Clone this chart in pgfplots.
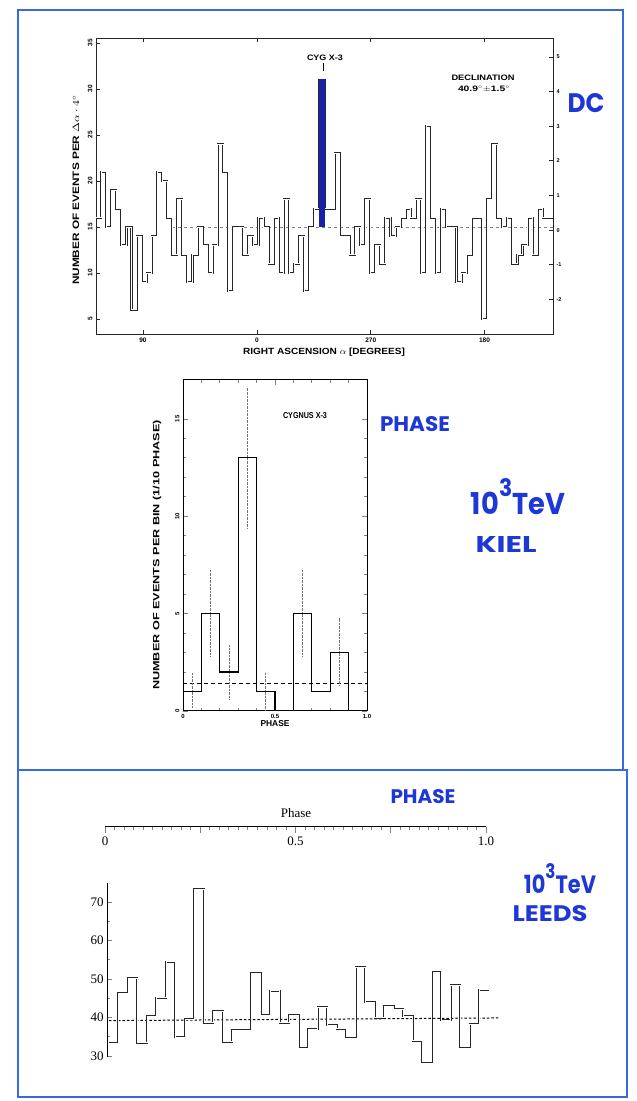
\documentclass[border=0pt]{standalone}
\usepackage{graphicx}
\usepackage{pgfplots}
\pgfplotsset{compat=1.18}
\usepackage{pgfplotstable}
\usepackage{fontspec}
\setmainfont{Liberation Serif}
\newfontfamily\oldsans{Liberation Sans}
\newfontfamily\hand{Poppins}
\definecolor{ink}{RGB}{30,55,215}
\definecolor{framec}{RGB}{55,105,225}
\definecolor{barblue}{RGB}{22,34,170}
\newcommand{\fitbox}[3]{\resizebox{#1}{#2}{\oldsans\bfseries #3}}
\newcommand{\handbox}[3]{\resizebox{#1}{#2}{\hand\bfseries #3}}

\pgfplotstableread{
i v
0 16
1 21
2 15
3 19
4 17
5 13
6 15
7 6
8 14
9 9
10 10
11 14
12 21
13 20
14 16
15 12
16 18
17 12
18 9
19 12
20 15
21 13
22 10
23 13
24 24
25 21
26 8
27 15
28 15
29 12
30 14
31 13
32 16
33 15
34 11
35 16
36 10
37 18
38 10
39 11
40 14
41 8
42 15
43 17
44 31
45 17
46 17
47 23
48 14
49 14
50 12
51 15
52 13
53 18
54 10
55 13
56 11
57 16
58 14
59 15
60 16
61 17
62 16
63 18
64 10
65 26
66 16
67 10
68 17
69 15
70 15
71 9
72 10
73 12
74 16
75 16
76 5
77 18
78 24
79 16
80 15
81 16
82 11
83 12
84 13
85 16
86 12
87 17
88 16
89 16
90 16
}\radata

\pgfplotstableread{
x v
0.0 1
0.1 5
0.2 2
0.3 13
0.4 1
0.5 0
0.6 5
0.7 1
0.8 3
0.9 0
1.0 0
}\kieldata

\pgfplotstableread{
x v
0.000 33.3
0.025 46.3
0.050 50.2
0.075 33.5
0.100 40.4
0.125 45.2
0.150 54.5
0.175 34.9
0.200 39.5
0.225 73.3
0.250 38.7
0.275 41.7
0.300 33.7
0.325 36.7
0.350 36.7
0.375 51.6
0.400 40.6
0.425 47.0
0.450 38.7
0.475 40.6
0.500 32.0
0.525 36.9
0.550 42.7
0.575 38.0
0.600 37.1
0.625 35.0
0.650 53.0
0.675 44.0
0.700 40.0
0.725 43.0
0.750 42.2
0.775 40.3
0.800 34.0
0.825 28.5
0.850 52.2
0.875 39.3
0.900 48.4
0.925 32.4
0.950 38.3
0.975 47.2
1.000 47.2
}\leedsdata

\begin{document}
\begin{tikzpicture}[x=1pt,y=1pt]
\path[use as bounding box] (0,0) rectangle (637,1101);
% blue frame
\draw[framec, line width=2.5pt] (18,1091) rectangle (623,331);
\draw[framec, line width=2.5pt] (18,331) -- (627,331) -- (627,4) -- (18,4) -- cycle;

% ===== top chart (right ascension) =====
\begin{axis}[
  at={(96pt,767pt)}, anchor=south west, scale only axis,
  width=457pt, height=296pt,
  xmin=0, xmax=90, ymin=3.37, ymax=35.54,
  axis line style={line width=0.9pt, black!85},
  xtick={9.25,31.7,54.1,76.5}, xticklabels={90,0,270,180},
  ytick={5,10,...,35}, ytick pos=left,
  tick align=inside, major tick length=4pt,
  tick style={line width=0.8pt, black!85},
  /pgf/number format/assume math mode=true,
  xticklabel style={font=\oldsans\bfseries\fontsize{6.5}{7}\selectfont},
  yticklabel style={font=\oldsans\bfseries\fontsize{6.5}{7}\selectfont, rotate=90, anchor=south},
  clip=false,
]
\addplot[gray, dash pattern=on 3pt off 3pt, line width=0.6pt] coordinates {(15,15) (90,15)};
\addplot[const plot, draw=black!85, line width=0.65pt, double=white, double distance=0.8pt] table[x=i,y=v]{\radata};
\addplot[draw=none, fill=barblue] coordinates {(43.85,15) (43.85,31.1) (45.15,31.1) (45.15,15)} -- cycle;
\end{axis}
\begin{axis}[
  at={(96pt,767pt)}, anchor=south west, scale only axis,
  width=457pt, height=296pt,
  xmin=0, xmax=90, ymin=-3.0, ymax=5.55,
  axis x line=none, axis y line*=right,
  axis line style={-, line width=0.9pt, black!85},
  ytick={-2,...,5}, tick align=inside, major tick length=4pt,
  tick style={line width=0.8pt, black!85},
  /pgf/number format/assume math mode=true,
  yticklabel style={font=\oldsans\bfseries\fontsize{5.5}{6}\selectfont},
]
\end{axis}
\node[rotate=90] at (76,911) {\fitbox{190pt}{6.5pt}{NUMBER OF EVENTS PER $\Delta\alpha\cdot4^{\circ}$}};
\node at (324,749) {\fitbox{162pt}{6.5pt}{RIGHT ASCENSION $\alpha$ [DEGREES]}};
\node at (325,1043) {\fitbox{36pt}{5.5pt}{CYG X-3}};
\draw[line width=0.8pt] (323,1038) -- (323,1030);
\node at (483,1023) {\fitbox{63pt}{5.5pt}{DECLINATION}};
\node at (484,1012) {\fitbox{52pt}{5.5pt}{40.9$^{\circ}\pm$1.5$^{\circ}$}};

% ===== Kiel chart =====
\begin{axis}[
  at={(183pt,390pt)}, anchor=south west, scale only axis,
  width=184pt, height=331pt,
  xmin=0, xmax=1, ymin=0, ymax=17,
  xtick={0,0.5,1}, xticklabels={0,0.5,1.0}, minor x tick num=4,
  ytick={0,5,10,15}, minor y tick num=4,
  tick align=inside, major tick length=5pt, minor tick length=3pt,
  axis line style={line width=1pt},
  tick style={line width=0.8pt},
  /pgf/number format/assume math mode=true,
  xticklabel style={font=\oldsans\bfseries\fontsize{6}{7}\selectfont},
  yticklabel style={font=\oldsans\bfseries\fontsize{6}{7}\selectfont, rotate=90, anchor=south},
]
\addplot[black, dash pattern=on 4pt off 3pt, line width=0.8pt] coordinates {(0,1.4) (1,1.4)};
\addplot[draw=none, mark=none, error bars/.cd, y dir=both, y explicit, error mark=none,
  error bar style={black!55, densely dotted, line width=0.9pt}]
  coordinates {
  (0.05,1) += (0,1.0) -= (0,0.8)
  (0.15,5) += (0,2.3) -= (0,2.2)
  (0.25,2) += (0,1.4) -= (0,1.4)
  (0.35,13) += (0,3.6) -= (0,3.6)
  (0.45,1) += (0,1.0) -= (0,1.0)
  (0.65,5) += (0,2.3) -= (0,2.2)
  (0.85,3) += (0,1.8) -= (0,1.7)
  };
\addplot[const plot, black, line width=1.2pt] table[x=x,y=v]{\kieldata};
\end{axis}
\node[rotate=90] at (157,546) {\fitbox{270pt}{6.5pt}{NUMBER OF EVENTS PER BIN (1/10 PHASE)}};
\node at (275,377) {\fitbox{29pt}{6pt}{PHASE}};
\node at (305,685) {\fitbox{44pt}{6pt}{CYGNUS X-3}};

% ===== Leeds phase scale =====
\begin{axis}[
  at={(105pt,274pt)}, anchor=south west, scale only axis,
  width=381pt, height=10pt,
  xmin=0, xmax=1, ymin=0, ymax=1,
  axis x line=bottom, axis y line=none,
  axis line style={-, line width=1pt},
  xtick={0,0.25,0.5,0.75,1}, xticklabels={0,,0.5,,1.0}, minor x tick num=9,
  tick align=outside, major tick length=6pt, minor tick length=3pt,
  tick style={line width=0.8pt},
  /pgf/number format/assume math mode=true,
  xticklabel style={font=\fontsize{13}{13}\selectfont},
]
\end{axis}
\node at (296,288) {\fontsize{13}{13}\selectfont Phase};

% ===== Leeds chart =====
\begin{axis}[
  at={(107.1pt,43.8pt)}, anchor=south west, scale only axis,
  width=392.9pt, height=174.4pt,
  xmin=-0.005, xmax=1.03, ymin=29.7, ymax=75,
  axis x line=none, axis y line=left,
  axis line style={-, line width=1pt},
  ytick={30,40,...,70}, minor y tick num=1,
  tick align=inside, major tick length=5pt, minor tick length=3pt,
  tick style={line width=0.8pt},
  /pgf/number format/assume math mode=true,
  yticklabel style={font=\fontsize{13}{13}\selectfont},
  clip=false,
]
\addplot[black, dash pattern=on 2.5pt off 2pt, line width=1pt] coordinates {(0,39.2) (1.03,39.9)};
\addplot[const plot, draw=black!85, line width=0.65pt, double=white, double distance=0.7pt] table[x=x,y=v]{\leedsdata};
\end{axis}

% ===== handwritten blue notes =====
\node[ink] at (586,998) {\handbox{37pt}{19pt}{DC}};
\node[ink] at (415,677) {\handbox{70pt}{15pt}{PHASE}};
\node[ink] at (518,604) {\handbox{94pt}{36pt}{10\raisebox{0.6em}{\footnotesize 3}TeV}};
\node[ink] at (506,556) {\handbox{61pt}{16pt}{KIEL}};
\node[ink] at (423,304) {\handbox{65pt}{14pt}{PHASE}};
\node[ink] at (560,222) {\handbox{72pt}{30pt}{10\raisebox{0.6em}{\footnotesize 3}TeV}};
\node[ink] at (550,187) {\handbox{75pt}{16pt}{LEEDS}};
\end{tikzpicture}
\end{document}
